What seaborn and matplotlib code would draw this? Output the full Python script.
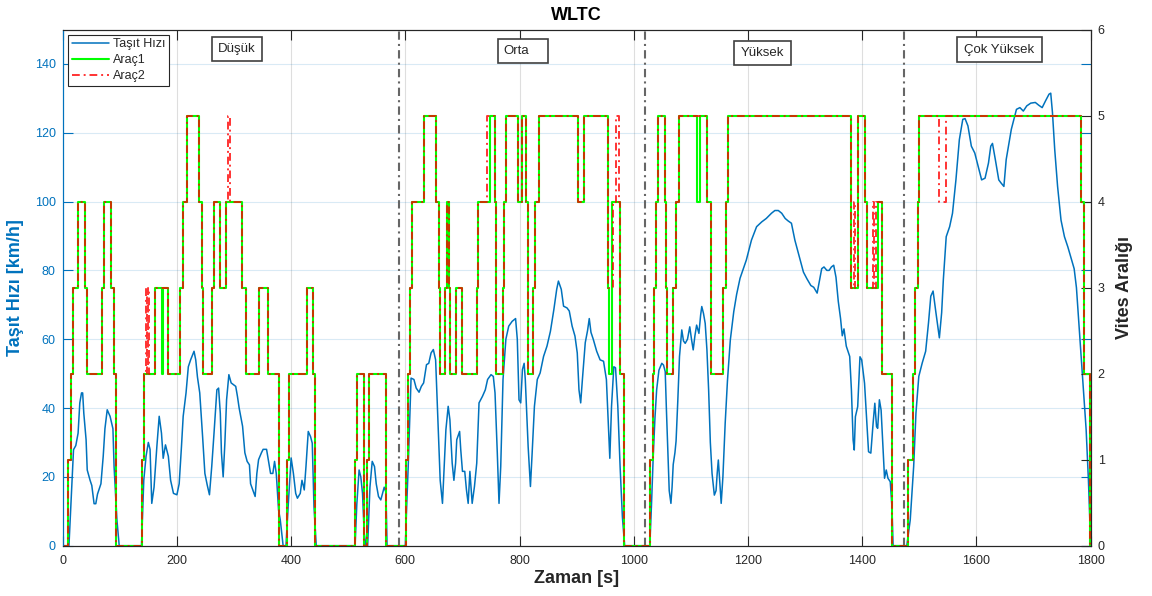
import matplotlib
matplotlib.use('Agg')
import matplotlib.pyplot as plt
import seaborn as sns
from matplotlib.patches import Rectangle

# WLTC vehicle speed (time s, speed km/h)
speed_t = [0, 11, 15, 19, 23, 27, 30, 33, 35, 37, 41, 43, 48, 51, 55, 58, 61, 67, 71, 74, 78, 83, 88, 90, 95, 99,
           138, 142, 146, 150, 153, 156, 160, 165, 169, 173, 176, 180, 185, 189, 194, 200, 204, 208, 211, 216, 220,
           224, 230, 233, 236, 240, 245, 249, 253, 257, 261, 265, 270, 273, 276, 278, 281, 284, 287, 291, 295, 299,
           303, 306, 309, 315, 319, 323, 327, 329, 334, 337, 340, 343, 348, 351, 357, 360, 364, 368, 371, 374, 378,
           381, 386, 391, 395, 400, 404, 408, 411, 416, 419, 421, 423, 426, 430, 434, 437, 440, 444,
           512, 515, 519, 522, 525, 528, 531, 534, 538, 542, 546, 549, 553, 557, 560, 563, 566, 568,
           600, 602, 605, 610, 615, 619, 624, 628, 632, 637, 641, 645, 649, 653, 657, 661, 665, 668, 671, 675, 678,
           682, 685, 688, 690, 695, 697, 700, 704, 707, 710, 713, 717, 721, 725, 729, 735, 740, 744, 750, 754, 757,
           761, 764, 767, 771, 776, 781, 787, 793, 796, 799, 802, 805, 808, 810, 815, 819, 822, 826, 831, 836, 842,
           848, 854, 860, 865, 868, 873, 877, 883, 887, 892, 897, 901, 904, 907, 910, 915, 919, 922, 925, 929, 935,
           941, 947, 952, 955, 958, 961, 965, 968, 972, 976, 980, 984,
           1028, 1031, 1034, 1037, 1040, 1044, 1049, 1052, 1055, 1057, 1060, 1062, 1065, 1067, 1069, 1072, 1074,
           1077, 1080, 1084, 1087, 1090, 1094, 1098, 1101, 1104, 1107, 1110, 1114, 1117, 1119, 1122, 1125, 1128,
           1131, 1134, 1137, 1141, 1144, 1146, 1148, 1150, 1153, 1156, 1160, 1164, 1169, 1175, 1180, 1186, 1197,
           1206, 1215, 1224, 1232, 1241, 1247, 1253, 1259, 1265, 1270, 1276, 1282, 1290, 1297, 1303, 1310, 1315,
           1321, 1324, 1329, 1333, 1338, 1342, 1346, 1350, 1354, 1358, 1362, 1365, 1368, 1372, 1378, 1381, 1384,
           1386, 1388, 1392, 1396, 1399, 1404, 1408, 1411, 1415, 1419, 1422, 1425, 1427, 1430, 1433, 1436, 1439,
           1442, 1445, 1449, 1452, 1454,
           1478, 1484, 1490, 1494, 1499, 1505, 1511, 1516, 1520, 1524, 1529, 1535, 1539, 1542, 1547, 1553, 1558,
           1564, 1570, 1576, 1580, 1585, 1591, 1597, 1603, 1609, 1615, 1621, 1625, 1628, 1633, 1639, 1643, 1648,
           1652, 1661, 1670, 1676, 1682, 1688, 1695, 1703, 1709, 1715, 1721, 1727, 1730, 1733, 1737, 1742, 1748,
           1754, 1760, 1766, 1771, 1775, 1780, 1786, 1792, 1796, 1800]
speed_v = [0, 0, 14, 27.9, 29.1, 32.7, 41.5, 44.4, 44.4, 38.5, 30.8, 22, 19, 17.5, 12.2, 12.2, 15, 18, 26, 34, 39.5,
           37.6, 34, 23, 7.5, 0,
           0, 19, 26, 30, 28, 12.3, 17, 29, 37.6, 32.7, 25.4, 29.3, 26, 19, 15.2, 14.8, 18, 28.8, 37.6, 44.4, 52,
           54, 56.5, 54, 49, 44.4, 31.7, 21, 17.7, 14.8, 23, 32.7, 45.3, 45.8, 38.5, 27, 20, 29.8, 42.4, 49.7, 47.3,
           46.8, 46.3, 43.4, 40, 34.7, 27, 24.5, 23.5, 18, 15.7, 14.3, 21, 25, 27, 28, 28, 25, 21, 21, 24.5, 21,
           10.4, 7.5, 0, 0, 12, 25.5, 21, 15.2, 13.8, 15.2, 19, 17.7, 16.2, 23, 33.2, 31.7, 29.8, 11.4, 0,
           0, 12, 22, 20, 15.2, 3.6, 0, 0, 17, 24.5, 23, 18, 14.3, 13.3, 15.2, 17, 15.5, 0,
           0, 10, 23, 48.7, 48.3, 45.8, 44.6, 46.3, 47.3, 52.6, 53, 56, 57, 54, 36.6, 19, 12.3, 23, 33.7, 40.5, 36.6,
           24, 19, 24, 30.8, 33.2, 27.9, 21.6, 21.6, 16.2, 12.3, 21.6, 12.3, 17.2, 24, 41.5, 43.4, 45.3, 48.3, 49.7,
           49.2, 44.4, 26.9, 12.3, 23, 48.3, 60, 63.8, 65.2, 66, 60, 42.4, 41.5, 51.2, 53, 48.3, 28.8, 17.2, 26.9,
           40.5, 48.3, 50.2, 55, 58, 62.3, 68.6, 74.5, 76.9, 74.5, 69.6, 69.1, 68.2, 63.8, 60.9, 56, 45.3, 41.5, 48.3,
           59, 62.5, 66, 62, 60, 56.5, 54, 53.6, 48.3, 36.6, 25.4, 40.5, 52, 51.7, 40.5, 23, 8.4, 0,
           0, 12, 26, 37, 45.3, 51, 53, 52.5, 50.6, 40, 25.9, 16, 12.3, 17, 23.6, 27, 30.4, 42, 55, 62.7, 59.5, 58.8,
           60, 63.6, 60, 56.9, 61, 64.1, 61.7, 67, 69.5, 67.5, 64.6, 57, 45.3, 30, 21, 14.7, 16, 21, 24.9, 20, 12.3,
           20, 35.6, 48, 59.8, 68, 73, 77.7, 83, 88.8, 92.7, 94.1, 95.1, 96.6, 97.4, 97.4, 96.6, 95.1, 94.4, 93.7,
           88.8, 83.9, 79.5, 77.6, 75.6, 75.1, 73.4, 76, 80.5, 81, 80, 80, 81, 81.5, 78, 71, 66, 61, 63, 58, 55, 45.3,
           30.7, 27.8, 37.5, 40.4, 54.9, 54, 47.2, 35.6, 27.3, 26.9, 35.6, 41.4, 34.6, 34.1, 42.4, 39.4, 29.8, 19.6,
           22, 19.6, 18.6, 11.3, 0,
           0, 7.5, 23, 38.5, 49.2, 53.1, 56.5, 64.8, 72.5, 74, 67.7, 60.4, 67.7, 77.4, 89.8, 92.7, 96.6, 106.3, 118,
           123.9, 124.1, 122, 116.1, 114.1, 110.2, 106.3, 106.8, 111.2, 116.1, 116.9, 112.2, 106.3, 105.4, 104.4,
           112.2, 121, 126.8, 127.3, 126.3, 127.8, 128.6, 128.8, 128, 127.3, 129.3, 131.2, 131.5, 125.9, 115.1,
           104.4, 94.6, 89.8, 86.8, 83.4, 80.5, 75, 62.8, 48.3, 33.7, 19, 0]

# gear changes (time s -> gear) for the two vehicles
gear1_t = [0, 10, 14.6, 17.5, 26.3, 39.1, 42.6, 68.9, 73, 84.6, 89.9, 94, 138.4, 142.4, 161.7, 173.4, 176.3, 185,
           205.5, 210.2, 217.2, 238.8, 243.4, 246.4, 262.1, 265, 275.5, 286, 314.7, 321, 343.8, 360.2, 378.3,
           392.3, 397, 427.3, 439, 442.5, 512, 516, 527, 532.4, 536.5, 566.5,
           600.5, 604.6, 608.7, 611.6, 631.9, 653.9, 658.6, 660.9, 669.6, 673, 677, 679, 688.7, 698.5, 726, 728,
           748, 757, 759.5, 771.5, 773, 776, 798, 803.5, 811, 815, 824, 827, 834.5, 903, 913, 955, 957, 962, 976,
           983,
           1028.4, 1033, 1035.3, 1038.9, 1043, 1054.6, 1057, 1058.7, 1069.2, 1073.9, 1079.7, 1111, 1116, 1129,
           1134.3, 1136, 1156.8, 1161.5, 1165.6, 1380.4, 1393, 1405, 1408, 1428, 1435, 1452.6,
           1480, 1488, 1493, 1497, 1500, 1783, 1788, 1789, 1798, 1800]
gear1_g = [0, 1, 2, 3, 4, 3, 2, 3, 4, 3, 2, 0, 1, 2, 3, 2, 3, 2,
           3, 4, 5, 4, 3, 2, 3, 4, 3, 4, 3, 2, 3, 2, 0,
           1, 2, 3, 2, 0, 1, 2, 0, 1, 2, 0,
           1, 2, 3, 4, 5, 4, 3, 2, 3, 4, 3, 2, 3, 2, 3, 4,
           5, 4, 2, 3, 4, 5, 4, 5, 4, 2, 3, 4, 5, 4, 5, 3, 2, 4, 2,
           0,
           1, 2, 3, 4, 5, 4, 3, 2, 3, 4, 5, 4, 5, 4,
           3, 2, 3, 4, 5, 3, 5, 4, 3, 4, 2, 0,
           1, 2, 3, 4, 5, 4, 3, 2, 0, 0]

gear2_t = [0, 10, 14.6, 17.5, 26.3, 39.1, 42.6, 68.9, 73, 84.6, 89.9, 94, 138.4, 142.4, 145.4, 147.7, 150, 151.8,
           161.7, 185, 205.5, 210.2, 217.2, 238.8, 243.4, 246.4, 262.1, 265, 275.5, 286, 289, 293.5, 314.7, 321,
           343.8, 360.2, 378.3, 392.3, 397, 427.3, 439, 442.5, 512, 516, 527, 532.4, 536.5, 566.5,
           600.5, 604.6, 608.7, 611.6, 631.9, 653.9, 658.6, 660.9, 669.6, 673, 677, 679, 688.7, 698.5, 726, 728,
           743.5, 757, 759.5, 771.5, 773, 776, 798, 803.5, 811, 815, 824, 827, 834.5, 903, 913, 955, 963, 969, 974,
           976, 983,
           1028.4, 1033, 1035.3, 1038.9, 1043, 1054.6, 1057, 1058.7, 1069.2, 1073.9, 1079.7, 1129, 1134.3, 1136,
           1156.8, 1161.5, 1165.6, 1380.4, 1386, 1388, 1393, 1405, 1408, 1419, 1421, 1424, 1435, 1452.6,
           1480, 1488, 1493, 1497, 1500, 1535, 1546, 1783, 1788, 1789, 1798, 1800]
gear2_g = [0, 1, 2, 3, 4, 3, 2, 3, 4, 3, 2, 0, 1, 2, 3, 2, 3, 2,
           3, 2, 3, 4, 5, 4, 3, 2, 3, 4, 3, 4, 5, 4, 3, 2,
           3, 2, 0, 1, 2, 3, 2, 0, 1, 2, 0, 1, 2, 0,
           1, 2, 3, 4, 5, 4, 3, 2, 3, 4, 3, 2, 3, 2, 3, 4,
           5, 4, 2, 3, 4, 5, 4, 5, 4, 2, 3, 4, 5, 4, 5, 3, 4, 5, 4,
           2, 0,
           1, 2, 3, 4, 5, 4, 3, 2, 3, 4, 5, 4, 3, 2,
           3, 4, 5, 3, 4, 3, 5, 4, 3, 4, 3, 4, 2, 0,
           1, 2, 3, 4, 5, 4, 5, 4, 3, 2, 0, 0]

phase_bounds = [589, 1020, 1473]
phase_names = ['Düşük', 'Orta', 'Yüksek', 'Çok Yüksek']
x_ticks = list(range(0, 1801, 200))
speed_ticks = list(range(0, 141, 20))
gear_ticks = list(range(0, 7))

BLUE = '#0072BD'
DARK = '#262626'

sns.set_theme(style='white')
plt.rcParams['font.family'] = ['Liberation Sans', 'DejaVu Sans']
plt.rcParams['font.size'] = 9

fig = plt.figure(figsize=(11.52, 5.96), dpi=100)
ax = fig.add_axes([0.0544, 0.0844, 0.8924, 0.8661])
ax2 = ax.twinx()

# speed on the left axis
sns.lineplot(x=speed_t, y=speed_v, ax=ax, color=BLUE, lw=1.1, estimator=None, sort=False, legend=False)
h_speed = ax.lines[-1]

# phase boundaries
for b in phase_bounds:
    ax.axvline(b, color='#666666', lw=1.5, ls=(0, (4, 2, 1, 2)), zorder=3)

# gears on the right axis
sns.lineplot(x=gear1_t, y=gear1_g, ax=ax2, color='#00FF00', lw=1.5, drawstyle='steps-post',
             estimator=None, sort=False, legend=False)
h1 = ax2.lines[-1]
sns.lineplot(x=gear2_t, y=gear2_g, ax=ax2, color='#FF0000', lw=1.4, drawstyle='steps-post',
             estimator=None, sort=False, legend=False, alpha=0.8)
h2 = ax2.lines[-1]
h2.set_linestyle((0, (4, 2, 1, 2)))

ax.set_xlim(0, 1800)
ax.set_ylim(0, 150)
ax2.set_ylim(0, 6)
ax.set_xticks(x_ticks)
ax.set_yticks(speed_ticks)
ax2.set_yticks(gear_ticks)

ax.grid(True, axis='x', color=DARK, alpha=0.15, lw=0.8)
ax.grid(True, axis='y', color=BLUE, alpha=0.15, lw=0.8)

ax.tick_params(axis='x', colors=DARK, direction='in', length=7, width=0.8, top=True, bottom=True,
               labelsize=9, pad=7)
ax.tick_params(axis='y', colors=BLUE, direction='in', length=7, width=0.8, left=True, right=True,
               labelsize=9, pad=5)
ax2.tick_params(axis='y', colors=DARK, direction='in', length=7, width=0.8, labelsize=9, pad=5)

for a in (ax, ax2):
    for s in ('top', 'right', 'bottom'):
        a.spines[s].set_color(DARK)
        a.spines[s].set_linewidth(0.8)
    a.spines['left'].set_color(BLUE)
    a.spines['left'].set_linewidth(0.8)

ax.set_xlabel('Zaman [s]', fontsize=13, fontweight='bold', color=DARK, labelpad=2)
ax.set_ylabel('Taşıt Hızı [km/h]', fontsize=13, fontweight='bold', color=BLUE, labelpad=8)
ax2.set_ylabel('Vites Aralığı', fontsize=13, fontweight='bold', color=DARK, labelpad=8)
ax.set_title('WLTC', fontsize=13, fontweight='bold', color='black', pad=7)

leg = ax2.legend([h_speed, h1, h2], ['Taşıt Hızı', 'Araç1', 'Araç2'], loc='upper left',
                 bbox_to_anchor=(0.005, 0.99), frameon=True, fancybox=False, edgecolor=DARK,
                 framealpha=1, fontsize=9, handlelength=3.0, borderpad=0.3, labelspacing=0.3,
                 handletextpad=0.3, borderaxespad=0)
leg.get_frame().set_linewidth(0.8)
leg.set_zorder(10)

# phase name boxes (axes fraction: x0, y0, w, h, text x)
boxes = [(0.1452, 0.939, 0.0486, 0.0465, 0.1697),
         (0.4234, 0.9351, 0.0486, 0.0465, 0.441),
         (0.6530, 0.9312, 0.0554, 0.0465, 0.6803),
         (0.8699, 0.9370, 0.0827, 0.0484, 0.9108)]
for name, (x0, y0, w, h, tx) in zip(phase_names, boxes):
    ax2.add_patch(Rectangle((x0, y0), w, h, transform=ax2.transAxes, facecolor='white',
                            edgecolor='#404040', lw=1.2, zorder=8))
    ax2.text(tx, y0 + h / 2, name, transform=ax2.transAxes, ha='center', va='center',
             fontsize=9.5, color=DARK, zorder=9)

fig.savefig('out.png', dpi=100)
